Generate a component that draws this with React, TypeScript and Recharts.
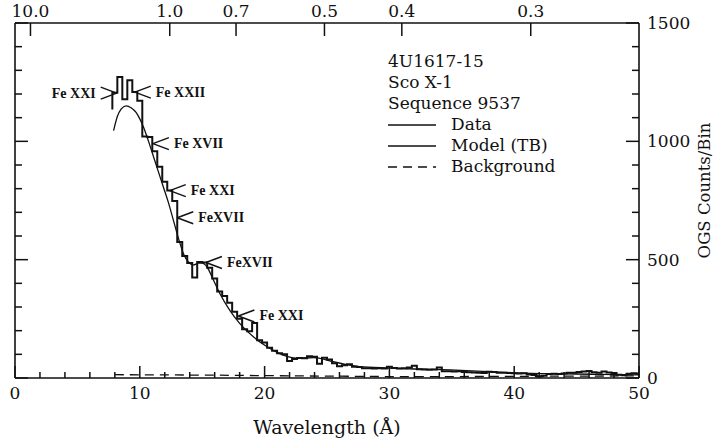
import React from 'react';
import { ComposedChart, Line, XAxis, YAxis, ReferenceDot, Legend } from 'recharts';

// OGS spectrum, counts per 0.4 Å bin; the first bin starts at 7.8 Å
const BIN_START = 7.8;
const BIN_WIDTH = 0.4;
const FIRST_EDGE_LEVEL = 1135;
const dataCounts = [
  1205, 1272, 1178, 1258, 1208, 1172, 1020, 1018, 958, 893,
  829, 792, 748, 575, 515, 486, 425, 490, 488, 466,
  420, 366, 346, 318, 280, 250, 206, 198, 232, 160,
  150, 128, 115, 105, 100, 72, 80, 84, 83, 92,
  90, 60, 86, 78, 62, 50, 54, 58, 48, 47,
  41, 41, 40, 41, 40, 48, 42, 40, 41, 44,
  52, 37, 36, 35, 36, 44, 29, 28, 27, 28,
  25, 24, 23, 22, 21, 26, 25, 22, 22, 21,
  20, 19, 20, 15, 13, 6, 10, 17, 18, 17,
  19, 22, 22, 25, 27, 30, 24, 22, 27, 23,
  21, 14, 12, 18, 20, 18,
];

// thermal bremsstrahlung model
const modelWave = [
  7.9, 8.2, 8.5, 8.9, 9.3, 9.7, 10.0, 10.3, 10.7, 11.1, 11.5, 11.9, 12.3, 12.7,
  13.1, 13.5, 13.9, 14.3, 14.7, 15.0, 15.4, 15.9, 16.4, 17.2, 18.0, 19.1, 20.2,
  21.5, 22.8, 23.9, 25.5, 26.7, 27.6, 30, 32, 34.9, 38, 40, 42.9, 45, 47, 50,
];
const modelCounts = [
  1045, 1105, 1136, 1150, 1142, 1122, 1095, 1060, 1000, 935, 870, 805, 740, 665,
  590, 525, 490, 478, 485, 485, 468, 414, 358, 287, 231, 174, 132,
  97, 83, 86, 69, 55, 48, 42, 38, 34, 27, 22, 18, 17, 15, 13,
];

const bkgWave = [8, 12, 16, 20, 25, 30, 35, 40, 45, 50];
const bkgCounts = [14, 13, 12, 10, 8, 6, 6, 7, 8, 9];

const wavelengthTicks = [0, 2, 4, 6, 8, 10, 12, 14, 16, 18, 20, 22, 24, 26, 28, 30, 32, 34, 36, 38, 40, 42, 44, 46, 48, 50];
const countTicks = [0, 100, 200, 300, 400, 500, 600, 700, 800, 900, 1000, 1100, 1200, 1300, 1400, 1500];
const energyLabels = [10.0, 1.0, 0.7, 0.5, 0.4, 0.3];
const HC = 12.398; // keV * Å

const ions = [
  { ion: 'Fe XXI', wave: 8.15, counts: 1204, side: 'left' },
  { ion: 'Fe XXII', wave: 9.6, counts: 1208, side: 'right' },
  { ion: 'Fe XVII', wave: 11.05, counts: 990, side: 'right' },
  { ion: 'Fe XXI', wave: 12.4, counts: 792, side: 'right' },
  { ion: 'FeXVII', wave: 13.0, counts: 677, side: 'right' },
  { ion: 'FeXVII', wave: 15.3, counts: 488, side: 'right' },
  { ion: 'Fe XXI', wave: 17.9, counts: 262, side: 'right' },
];

const headerLines = ['4U1617-15', 'Sco X-1', 'Sequence 9537'];

const FONT = "'DejaVu Serif', serif";
const INK = '#111';
const TICK_W = 1.5;

const histogram = [
  { x: BIN_START, y: FIRST_EDGE_LEVEL },
  ...dataCounts.map((c, i) => ({ x: BIN_START + i * BIN_WIDTH, y: c })),
  { x: BIN_START + dataCounts.length * BIN_WIDTH, y: dataCounts[dataCounts.length - 1] },
];
const model = modelWave.map((x, i) => ({ x, y: modelCounts[i] }));
const background = bkgWave.map((x, i) => ({ x, y: bkgCounts[i] }));
const energyTicks = energyLabels.map((e) => HC / e);

const WaveTick = (props: any) => {
  const { x, y, payload } = props;
  const major = payload.value % 10 === 0;
  return (
    <g>
      <line x1={x} y1={y} x2={x} y2={y - (major ? 12 : 6)} stroke={INK} strokeWidth={TICK_W} />
      {major && (
        <text x={x} y={y + 21} textAnchor="middle" fontFamily={FONT} fontSize={17} fill={INK}>
          {payload.value}
        </text>
      )}
    </g>
  );
};

const EnergyTick = (props: any) => {
  const { x, y, payload } = props;
  const keV = HC / payload.value;
  return (
    <g>
      <line x1={x} y1={y} x2={x} y2={y + 13} stroke={INK} strokeWidth={TICK_W} />
      <text x={x} y={y - 6} textAnchor="middle" fontFamily={FONT} fontSize={17} fill={INK}>
        {keV.toFixed(1)}
      </text>
    </g>
  );
};

// right-hand count axis: ticks point into the plot, labels every 500
const CountTick = (props: any) => {
  const { x, y, payload } = props;
  const major = payload.value % 500 === 0;
  return (
    <g>
      <line x1={x} y1={y} x2={x - (major ? 13 : 7)} y2={y} stroke={INK} strokeWidth={TICK_W} />
      {major && (
        <text x={x + 8} y={y} dominantBaseline="central" fontFamily={FONT} fontSize={17} fill={INK}>
          {payload.value}
        </text>
      )}
    </g>
  );
};

const LeftTick = (props: any) => {
  const { x, y, payload } = props;
  const major = payload.value % 500 === 0;
  return <line x1={x} y1={y} x2={x + (major ? 13 : 7)} y2={y} stroke={INK} strokeWidth={TICK_W} />;
};

const Callout = ({ cx, cy, ion, side }: any) => {
  const dir = side === 'right' ? 1 : -1;
  return (
    <g stroke={INK} strokeWidth={1.4}>
      <line x1={cx} y1={cy} x2={cx + dir * 16} y2={cy - 6} />
      <line x1={cx} y1={cy} x2={cx + dir * 16} y2={cy + 6} />
      <text
        x={cx + dir * 21}
        y={cy}
        stroke="none"
        fill={INK}
        textAnchor={side === 'right' ? 'start' : 'end'}
        dominantBaseline="central"
        fontFamily="'Liberation Serif', serif"
        fontWeight="bold"
        fontSize={14}
      >
        {ion}
      </text>
    </g>
  );
};

const legendRows = [
  { name: 'Data', dash: undefined },
  { name: 'Model (TB)', dash: undefined },
  { name: 'Background', dash: '9 6' },
];

const SpectrumLegend = () => (
  <div style={{ fontFamily: FONT, fontSize: 17, lineHeight: '21px', color: INK, whiteSpace: 'nowrap' }}>
    {headerLines.map((t) => (
      <div key={t}>{t}</div>
    ))}
    {legendRows.map((r) => (
      <div key={r.name} style={{ display: 'flex', alignItems: 'center' }}>
        <svg width={48} height={10} style={{ marginRight: 15 }}>
          <line x1={0} y1={5} x2={48} y2={5} stroke={INK} strokeWidth={1.3} strokeDasharray={r.dash} />
        </svg>
        <span>{r.name}</span>
      </div>
    ))}
  </div>
);

export default function App() {
  return (
    <div style={{ width: 728, height: 444, background: '#fff' }}>
      <style>{'body{margin:0}'}</style>
      <ComposedChart width={728} height={444} margin={{ top: 0, right: 9, bottom: 0, left: 10 }}>
        <XAxis
          xAxisId="w"
          type="number"
          dataKey="x"
          domain={[0, 50]}
          ticks={wavelengthTicks}
          interval={0}
          allowDataOverflow
          height={66}
          tickSize={0}
          tickMargin={0}
          tick={WaveTick}
          axisLine={{ stroke: INK, strokeWidth: 1.6 }}
          label={{
            value: 'Wavelength (Å)',
            position: 'insideBottom',
            offset: 10,
            style: { fontFamily: FONT, fontSize: 19, fill: INK },
          }}
        />
        <XAxis
          xAxisId="e"
          orientation="top"
          type="number"
          dataKey="x"
          domain={[0, 50]}
          ticks={energyTicks}
          interval={0}
          allowDataOverflow
          height={23}
          tickSize={0}
          tickMargin={0}
          tick={EnergyTick}
          axisLine={{ stroke: INK, strokeWidth: 1.6 }}
        />
        <YAxis
          yAxisId="c"
          orientation="right"
          type="number"
          domain={[0, 1500]}
          ticks={countTicks}
          interval={0}
          allowDataOverflow
          width={80}
          tickSize={0}
          tickMargin={0}
          tick={CountTick}
          axisLine={{ stroke: INK, strokeWidth: 1.6 }}
          label={{
            content: (p: any) => {
              const vb = p.viewBox || { x: 639, y: 23, width: 80, height: 355 };
              const cx = vb.x + vb.width - 15;
              const cy = vb.y + vb.height / 2 - 10;
              return (
                <text
                  transform={`translate(${cx},${cy}) rotate(-90)`}
                  textAnchor="middle"
                  dominantBaseline="central"
                  fontFamily={FONT}
                  fontSize={16.5}
                  fill={INK}
                >
                  OGS Counts/Bin
                </text>
              );
            },
          }}
        />
        <YAxis
          yAxisId="l"
          orientation="left"
          type="number"
          domain={[0, 1500]}
          ticks={countTicks}
          interval={0}
          allowDataOverflow
          width={5}
          tickSize={0}
          tickMargin={0}
          tick={LeftTick}
          axisLine={{ stroke: INK, strokeWidth: 1.6 }}
        />
        <Legend
          layout="vertical"
          align="center"
          verticalAlign="middle"
          wrapperStyle={{ top: 51, left: 388, width: 'auto', height: 'auto' }}
          content={SpectrumLegend}
        />
        {/* the background shares the same ranges, drawn on the top/left axis pair */}
        <Line
          xAxisId="e"
          yAxisId="l"
          data={background}
          dataKey="y"
          name="Background"
          type="linear"
          stroke={INK}
          strokeWidth={1.3}
          strokeDasharray="9 6"
          dot={false}
          isAnimationActive={false}
        />
        <Line
          xAxisId="w"
          yAxisId="c"
          data={model}
          dataKey="y"
          name="Model (TB)"
          type="monotone"
          stroke={INK}
          strokeWidth={1.3}
          dot={false}
          isAnimationActive={false}
        />
        <Line
          xAxisId="w"
          yAxisId="c"
          data={histogram}
          dataKey="y"
          name="Data"
          type="stepAfter"
          stroke={INK}
          strokeWidth={2}
          dot={false}
          isAnimationActive={false}
        />
        {ions.map((a, i) => (
          <ReferenceDot
            key={i}
            xAxisId="w"
            yAxisId="c"
            x={a.wave}
            y={a.counts}
            r={0}
            ifOverflow="visible"
            shape={(p: any) => <Callout cx={p.cx} cy={p.cy} ion={a.ion} side={a.side} />}
          />
        ))}
      </ComposedChart>
    </div>
  );
}
